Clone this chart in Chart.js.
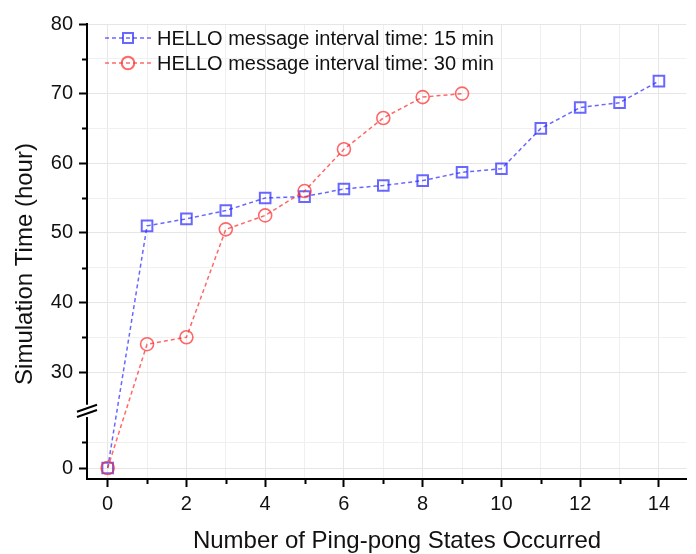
<!DOCTYPE html>
<html>
<head>
<meta charset="utf-8">
<script src="https://cdn.jsdelivr.net/npm/chart.js@4.4.1/dist/chart.umd.min.js"></script>
<style>
  html, body { margin: 0; padding: 0; background: #fff; }
</style>
</head>
<body>
<canvas id="chart" width="696" height="554"></canvas>
<script>
// data
const statesHello15 = [0, 1, 2, 3, 4, 5, 6, 7, 8, 9, 10, 11, 12, 13, 14];
const hoursHello15 = [0, 51, 52, 53.2, 55, 55.2, 56.3, 56.8, 57.5, 58.7, 59.2, 65, 68, 68.7, 71.8];
const statesHello30 = [0, 1, 2, 3, 4, 5, 6, 7, 8, 9];
const hoursHello30 = [0, 34, 35, 50.5, 52.5, 56, 62, 66.5, 69.5, 70];

const seriesLabels = ["HELLO message interval time: 15 min", "HELLO message interval time: 30 min"];
const xTitle = "Number of Ping-pong States Occurred";
const yTitle = "Simulation Time (hour)";

const xTickValues = [0, 1, 2, 3, 4, 5, 6, 7, 8, 9, 10, 11, 12, 13, 14];
const xMajorTicks = [0, 2, 4, 6, 8, 10, 12, 14];
const yTickValues = [0, 5, 30, 35, 40, 45, 50, 55, 60, 65, 70, 75, 80];
const yMajorTicks = [0, 30, 40, 50, 60, 70, 80];

const FONT = "'Liberation Sans', Arial, sans-serif";

// broken y axis: lower piece (around 0) is squeezed under the 30..80 piece
const LOW_BASE = 16.21, LOW_K = 0.747, LOW_LIMIT = 20;
function toAxis(v) { return v < LOW_LIMIT ? LOW_BASE + LOW_K * v : v; }
function fromAxis(a) { return a < 24 ? (a - LOW_BASE) / LOW_K : a; }

class BrokenLinearScale extends Chart.LinearScale {
  static id = "brokenLinear";
  static defaults = Chart.LinearScale.defaults;
  getPixelForValue(value) {
    return super.getPixelForValue(toAxis(value));
  }
  getValueForPixel(pixel) {
    return fromAxis(super.getValueForPixel(pixel));
  }
}
Chart.register(BrokenLinearScale);

const toPoints = (xs, ys) => xs.map((x, i) => ({ x, y: ys[i] }));

const extras = {
  id: "extras",
  afterDraw(chart) {
    const ctx = chart.ctx;
    const xs = chart.scales.x, ys = chart.scales.y;
    const area = chart.chartArea;
    ctx.save();

    // minor ticks
    ctx.strokeStyle = "#000";
    ctx.lineWidth = 2;
    ctx.beginPath();
    yTickValues.filter(v => !yMajorTicks.includes(v)).forEach(v => {
      const py = Math.round(ys.getPixelForValue(v)) + 0.5;
      ctx.moveTo(area.left - 5, py);
      ctx.lineTo(area.left, py);
    });
    xTickValues.filter(v => !xMajorTicks.includes(v)).forEach(v => {
      const px = Math.round(xs.getPixelForValue(v)) + 0.5;
      ctx.moveTo(px, area.bottom);
      ctx.lineTo(px, area.bottom + 5);
    });
    ctx.stroke();

    // axis break between the two pieces
    const gapTop = ys.getPixelForValue(25.3);
    const gapBottom = ys.getPixelForValue(9.8);
    ctx.fillStyle = "#fff";
    ctx.fillRect(area.left - 3, gapTop, 6, gapBottom - gapTop);
    ctx.lineWidth = 2;
    ctx.beginPath();
    [gapTop + 3.5, gapBottom - 3.5].forEach(cy => {
      ctx.moveTo(area.left - 10, cy + 3.5);
      ctx.lineTo(area.left + 10, cy - 3.5);
    });
    ctx.stroke();

    // axis titles
    ctx.fillStyle = "#111";
    ctx.font = "24px " + FONT;
    ctx.textAlign = "center";
    ctx.textBaseline = "middle";
    ctx.fillText(xTitle, 397, 541);
    ctx.translate(25, 264);
    ctx.rotate(-Math.PI / 2);
    ctx.fillText(yTitle, 0, 0);
    ctx.restore();

    // legend
    ctx.save();
    chart.data.datasets.forEach((ds, i) => {
      const cy = 38 + i * 25;
      ctx.strokeStyle = ds.borderColor;
      ctx.lineWidth = 1.5;
      ctx.setLineDash([4, 3]);
      ctx.beginPath();
      ctx.moveTo(105, cy);
      ctx.lineTo(151, cy);
      ctx.stroke();
      ctx.setLineDash([]);
      ctx.lineWidth = 2;
      ctx.beginPath();
      if (ds.pointStyle === "rect") {
        ctx.rect(128 - 5, cy - 5, 10, 10);
      } else {
        ctx.arc(128, cy, 6.3, 0, Math.PI * 2);
      }
      ctx.stroke();
      ctx.fillStyle = "#111";
      ctx.font = "20px " + FONT;
      ctx.textAlign = "left";
      ctx.textBaseline = "middle";
      ctx.fillText(ds.label, 157, cy + 1);
    });
    ctx.restore();
  }
};

new Chart(document.getElementById("chart"), {
  type: "line",
  data: {
    datasets: [
      {
        label: seriesLabels[0],
        data: toPoints(statesHello15, hoursHello15),
        borderColor: "rgba(40, 40, 255, 0.7)",
        backgroundColor: "transparent",
        borderWidth: 1.5,
        borderDash: [4, 3],
        pointStyle: "rect",
        pointRadius: 7.5,
        pointBorderWidth: 2,
        pointBackgroundColor: "transparent",
        pointBorderColor: "rgba(40, 40, 255, 0.7)",
        tension: 0,
        order: 1
      },
      {
        label: seriesLabels[1],
        data: toPoints(statesHello30, hoursHello30),
        borderColor: "rgba(255, 40, 40, 0.7)",
        backgroundColor: "transparent",
        borderWidth: 1.5,
        borderDash: [4, 3],
        pointStyle: "circle",
        pointRadius: 6.5,
        pointBorderWidth: 1.6,
        pointBackgroundColor: "transparent",
        pointBorderColor: "rgba(255, 40, 40, 0.7)",
        tension: 0,
        order: 0
      }
    ]
  },
  options: {
    responsive: false,
    animation: false,
    layout: { padding: { top: 24, right: 0, bottom: 0, left: 0 } },
    plugins: { legend: { display: false }, tooltip: { enabled: false } },
    scales: {
      x: {
        type: "linear",
        min: -0.525,
        max: 14.7,
        bounds: "data",
        afterBuildTicks: s => { s.ticks = xTickValues.map(v => ({ value: v })); },
        afterFit: s => { s.height = 75; },
        ticks: {
          autoSkip: false,
          maxRotation: 0,
          padding: 5,
          color: "#111",
          font: { family: FONT, size: 20 },
          callback: v => xMajorTicks.includes(v) ? String(v) : ""
        },
        grid: {
          color: c => xMajorTicks.includes(c.tick && c.tick.value) ? "#e6e6e6" : "#f0f0f0",
          tickColor: c => xMajorTicks.includes(c.tick && c.tick.value) ? "#000" : "transparent",
          tickLength: 8,
          tickWidth: 2
        },
        border: { color: "#000", width: 2 },
        title: { display: false }
      },
      y: {
        type: "brokenLinear",
        min: 14.63,
        max: 80,
        bounds: "data",
        afterBuildTicks: s => { s.ticks = yTickValues.map(v => ({ value: v })); },
        afterFit: s => { s.width = 87; },
        ticks: {
          autoSkip: false,
          padding: 6,
          color: "#111",
          font: { family: FONT, size: 20 },
          callback: v => yMajorTicks.includes(v) ? String(v) : ""
        },
        grid: {
          color: c => yMajorTicks.includes(c.tick && c.tick.value) ? "#e6e6e6" : "#f0f0f0",
          tickColor: c => yMajorTicks.includes(c.tick && c.tick.value) ? "#000" : "transparent",
          tickLength: 8,
          tickWidth: 2
        },
        border: { color: "#000", width: 2 },
        title: { display: false }
      }
    }
  },
  plugins: [extras]
});
</script>
</body>
</html>
